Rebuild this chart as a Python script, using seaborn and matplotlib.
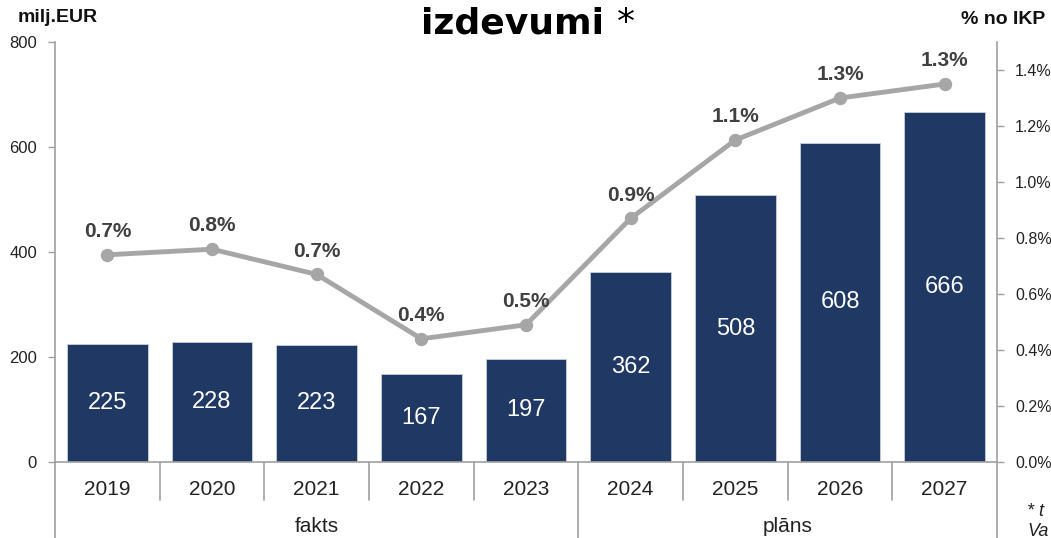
import matplotlib
matplotlib.use("Agg")
import matplotlib.pyplot as plt
import matplotlib.transforms as mtransforms
import seaborn as sns
import pandas as pd

# ---- data ----
years = ["2019", "2020", "2021", "2022", "2023", "2024", "2025", "2026", "2027"]
spend = [225, 228, 223, 167, 197, 362, 508, 608, 666]
gdp_share = [0.74, 0.76, 0.67, 0.44, 0.49, 0.87, 1.15, 1.30, 1.35]
gdp_labels = ["0.7%", "0.8%", "0.7%", "0.4%", "0.5%", "0.9%", "1.1%", "1.3%", "1.3%"]
groups = ["fakts", "plāns"]
group_sizes = [5, 4]
left_ticks = [0, 200, 400, 600, 800]
right_ticks = [0.0, 0.2, 0.4, 0.6, 0.8, 1.0, 1.2, 1.4]

df = pd.DataFrame({"year": years, "spend": spend, "share": gdp_share})

sns.set_theme(style="white")
plt.rcParams["font.family"] = ["Liberation Sans", "DejaVu Sans"]

BAR = "#203864"
LINE = "#A6A6A6"
AX = "#A0A0A0"
TXT = "#222222"

W, H = 1051, 538
fig = plt.figure(figsize=(W / 100, H / 100), dpi=100)
ax = fig.add_axes([55 / W, (H - 462) / H, (997 - 55) / W, 420 / H])

sns.barplot(data=df, x="year", y="spend", color=BAR, width=0.77,
            edgecolor="#c8d0e0", linewidth=0.6, saturation=1, ax=ax)
ax.set_ylim(0, 800)
ax.set_xlim(-0.5, len(years) - 0.5)
ax.set_yticks(left_ticks)
ax.set_yticklabels([str(t) for t in left_ticks], fontsize=12, color=TXT)
ax.set_xlabel("")
ax.set_ylabel("")
ax.tick_params(axis="y", length=5, width=1, color=AX, pad=8, left=True, direction="out")
ax.tick_params(axis="x", length=0, pad=13, labelsize=15, labelcolor=TXT)

ax.spines["top"].set_visible(False)
for s in ["left", "bottom", "right"]:
    ax.spines[s].set_color(AX)
    ax.spines[s].set_linewidth(1.2)

# bar labels
for i, v in enumerate(spend):
    ax.text(i, v / 2, str(v), ha="center", va="center", color="white", fontsize=17)

# twin axis for line
ax2 = ax.twinx()
sns.pointplot(data=df, x="year", y="share", color=LINE, linewidth=3.5,
              markersize=7, ax=ax2, errorbar=None)
ax2.set_ylim(0, 1.5)
ax2.set_xlim(-0.5, len(years) - 0.5)
ax2.set_yticks(right_ticks)
ax2.set_yticklabels([f"{t:.1f}%" for t in right_ticks], fontsize=11.5, color=TXT)
ax2.set_ylabel("")
ax2.set_xlabel("")
ax2.tick_params(axis="y", length=5, width=1, color=AX, pad=8, right=True, direction="out")
for s in ["top", "left", "bottom", "right"]:
    ax2.spines[s].set_visible(False)

for i, (v, lab) in enumerate(zip(gdp_share, gdp_labels)):
    ax2.annotate(lab, (i, v), xytext=(0, 10), textcoords="offset points",
                 ha="center", va="bottom", fontsize=15, fontweight="bold", color="#404040")

# category separators and group separators below the axis
trans = mtransforms.blended_transform_factory(ax.transData, ax.transAxes)
n = len(years)
bounds = [k - 0.5 for k in range(n + 1)]
group_edges = [-0.5]
for g in group_sizes:
    group_edges.append(group_edges[-1] + g)
for b in bounds:
    if b in group_edges:
        ax.plot([b, b], [-0.2, 0], transform=trans, color=AX, lw=1.2, clip_on=False)
    else:
        ax.plot([b, b], [0, -0.09], transform=trans, color=AX, lw=1.2, clip_on=False)

for gi, g in enumerate(groups):
    c = (group_edges[gi] + group_edges[gi + 1]) / 2
    ax.text(c, -0.153, g, transform=trans, ha="center", va="center", fontsize=15, color=TXT)

# titles / unit labels
fig.text(18 / W, 1 - 18 / H, "milj.EUR", ha="left", va="center", fontsize=14,
         fontweight="bold", color="#111111")
fig.text(1045 / W, 1 - 20 / H, "% no IKP", ha="right", va="center", fontsize=14,
         fontweight="bold", color="#111111")
fig.text(421 / W, 1 - 33 / H, "izdevumi", ha="left", va="baseline", fontsize=26,
         fontweight="bold", family="DejaVu Sans", color="black")
fig.text(617 / W, 1 - 33 / H, "*", ha="left", va="baseline", fontsize=26,
         family="DejaVu Sans", color="black")

fig.text(1027 / W, 1 - 512 / H, "* t", ha="left", va="center", fontsize=13,
         style="italic", color=TXT)
fig.text(1027 / W, 1 - 531 / H, "Va", ha="left", va="center", fontsize=13,
         style="italic", color=TXT)

fig.savefig("out.png", dpi=100)
